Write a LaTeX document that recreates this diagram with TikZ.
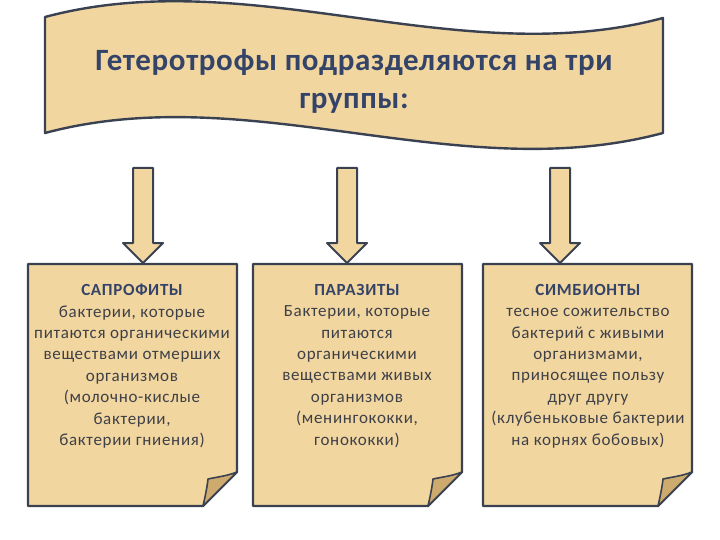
\documentclass[tikz,border=0pt]{standalone}
\usepackage{fontspec}
\setmainfont{Carlito}
\newfontfamily\bodyfont[LetterSpace=4]{Carlito}
\newfontfamily\headfont[LetterSpace=2]{Carlito}
\definecolor{paper}{RGB}{242,214,160}
\definecolor{foldc}{RGB}{205,170,110}
\definecolor{edge}{RGB}{58,66,82}
\definecolor{titlec}{RGB}{52,68,104}
\definecolor{bodyc}{RGB}{62,64,72}
\tikzset{
  shapeline/.style={draw=edge, line width=2.4pt, line join=round, fill=paper},
  foldline/.style={draw=edge, line width=1.6pt, line join=round, fill=foldc},
  boxtext/.style={anchor=north, align=center, text=bodyc, inner sep=0pt,
    font=\bodyfont\fontsize{17}{21.4}\selectfont},
  bannertext/.style={align=center, text=titlec, inner sep=0pt,
    font=\headfont\bfseries\fontsize{31}{38}\selectfont},
}
\newcommand{\boxhead}[1]{{\color{titlec}\bfseries #1}}
\begin{document}
\begin{tikzpicture}[x=1pt,y=-1pt]
\useasboundingbox (0,0) rectangle (720,540);
% banner
\draw[shapeline] (45,17) .. controls (251,-38) and (457,73) .. (663,18)
  -- (663,133) .. controls (457,188) and (251,78) .. (45,133) -- cycle;
\node[bannertext] (title) at (354,81) {Гетеротрофы подразделяются на три\\группы:};
% arrows
\foreach \cx/\nm in {143/a1,347/a2,560/a3}{
  \draw[shapeline, line width=2pt] (\cx-10,168) -- (\cx+10,168) -- (\cx+10,243) -- (\cx+20,243)
    -- (\cx,263) coordinate (\nm) -- (\cx-20,243) -- (\cx-10,243) -- cycle;
}
% boxes with folded corner
\foreach \xl/\xr in {28/237,253/462,483/692}{
  \draw[shapeline] (\xl,264) -- (\xr,264) -- (\xr,472) -- (\xr-34,506) -- (\xl,506) -- cycle;
  \draw[foldline] (\xr,472) .. controls (\xr-10,476) and (\xr-20,477) .. (\xr-29,479)
    .. controls (\xr-30,488) and (\xr-32,497) .. (\xr-34,506) -- cycle;
}
\node[boxtext] (b1) at (132,284) {\boxhead{САПРОФИТЫ}\\бактерии, которые\\питаются органическими\\веществами отмерших\\организмов\\(молочно-кислые\\бактерии,\\бактерии гниения)};
\node[boxtext] (b2) at (357,284) {\boxhead{ПАРАЗИТЫ}\\Бактерии, которые\\питаются\\органическими\\веществами живых\\организмов\\(менингококки,\\гонококки)};
\node[boxtext] (b3) at (588,284) {\boxhead{СИМБИОНТЫ}\\тесное сожительство\\бактерий с живыми\\организмами,\\приносящее пользу\\друг другу\\(клубеньковые бактерии\\на корнях бобовых)};
\end{tikzpicture}
\end{document}
